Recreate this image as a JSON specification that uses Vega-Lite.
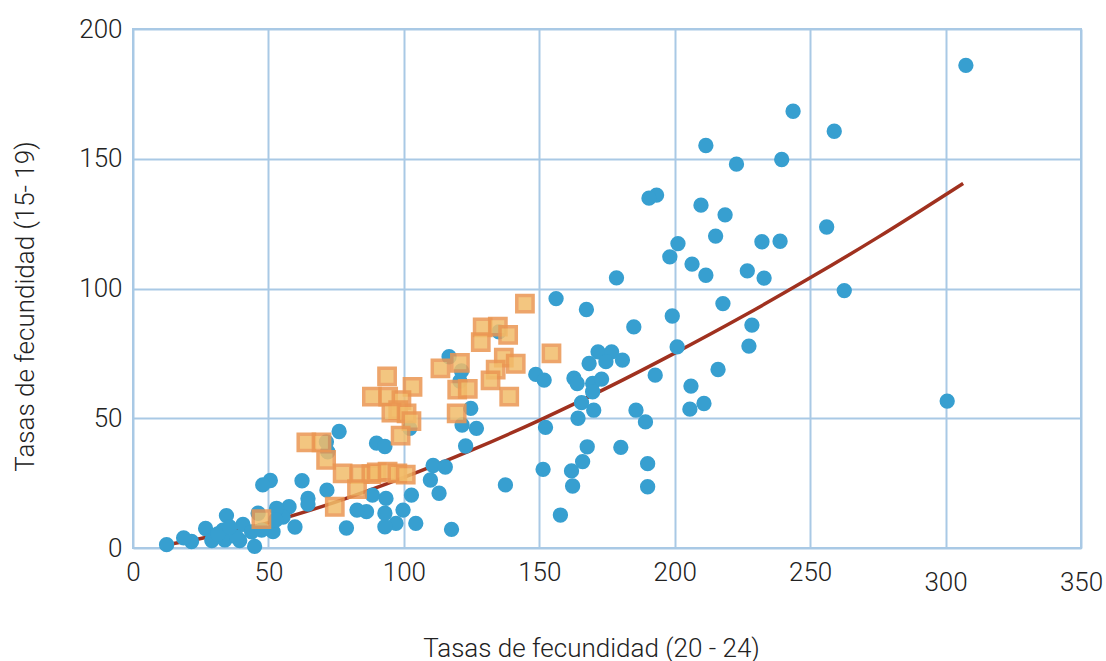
{
  "$schema": "https://vega.github.io/schema/vega-lite/v6.json",
  "width": 948,
  "height": 519,
  "autosize": {"type": "none"},
  "padding": {"left": 133, "top": 29, "right": 25, "bottom": 113},
  "background": "white",
  "config": {"view": {"stroke": "#a9c9e5", "strokeWidth": 2}, "font": "Roboto"},
  "datasets": {
    "ajuste": [
      {"tasa_20_24": 15, "tasa_15_19": 1.7},
      {"tasa_20_24": 30, "tasa_15_19": 4.7},
      {"tasa_20_24": 50, "tasa_15_19": 9.8},
      {"tasa_20_24": 75, "tasa_15_19": 17.8},
      {"tasa_20_24": 100, "tasa_15_19": 27.2},
      {"tasa_20_24": 125, "tasa_15_19": 37.7},
      {"tasa_20_24": 150, "tasa_15_19": 49.2},
      {"tasa_20_24": 175, "tasa_15_19": 61.7},
      {"tasa_20_24": 200, "tasa_15_19": 75.1},
      {"tasa_20_24": 225, "tasa_15_19": 89.2},
      {"tasa_20_24": 250, "tasa_15_19": 104.1},
      {"tasa_20_24": 275, "tasa_15_19": 119.7},
      {"tasa_20_24": 306.5, "tasa_15_19": 140.5}
    ],
    "paises": [
      {"tasa_20_24": 307.5, "tasa_15_19": 186.0},
      {"tasa_20_24": 243.7, "tasa_15_19": 168.3},
      {"tasa_20_24": 258.9, "tasa_15_19": 160.6},
      {"tasa_20_24": 211.5, "tasa_15_19": 155.1},
      {"tasa_20_24": 222.8, "tasa_15_19": 147.9},
      {"tasa_20_24": 239.5, "tasa_15_19": 149.7},
      {"tasa_20_24": 193.3, "tasa_15_19": 136.0},
      {"tasa_20_24": 190.5, "tasa_15_19": 134.8},
      {"tasa_20_24": 209.7, "tasa_15_19": 132.1},
      {"tasa_20_24": 218.6, "tasa_15_19": 128.4},
      {"tasa_20_24": 215.1, "tasa_15_19": 120.2},
      {"tasa_20_24": 201.2, "tasa_15_19": 117.3},
      {"tasa_20_24": 232.2, "tasa_15_19": 118.0},
      {"tasa_20_24": 238.9, "tasa_15_19": 118.2},
      {"tasa_20_24": 256.1, "tasa_15_19": 123.7},
      {"tasa_20_24": 198.2, "tasa_15_19": 112.2},
      {"tasa_20_24": 206.4, "tasa_15_19": 109.4},
      {"tasa_20_24": 211.5, "tasa_15_19": 105.1},
      {"tasa_20_24": 226.8, "tasa_15_19": 106.8},
      {"tasa_20_24": 233.0, "tasa_15_19": 104.0},
      {"tasa_20_24": 262.6, "tasa_15_19": 99.2},
      {"tasa_20_24": 217.8, "tasa_15_19": 94.2},
      {"tasa_20_24": 199.1, "tasa_15_19": 89.4},
      {"tasa_20_24": 228.5, "tasa_15_19": 85.9},
      {"tasa_20_24": 178.5, "tasa_15_19": 104.1},
      {"tasa_20_24": 156.2, "tasa_15_19": 96.1},
      {"tasa_20_24": 167.4, "tasa_15_19": 91.9},
      {"tasa_20_24": 184.9, "tasa_15_19": 85.2},
      {"tasa_20_24": 200.9, "tasa_15_19": 77.5},
      {"tasa_20_24": 227.4, "tasa_15_19": 77.8},
      {"tasa_20_24": 216.0, "tasa_15_19": 68.8},
      {"tasa_20_24": 192.8, "tasa_15_19": 66.6},
      {"tasa_20_24": 168.4, "tasa_15_19": 71.1},
      {"tasa_20_24": 171.7, "tasa_15_19": 75.6},
      {"tasa_20_24": 176.7, "tasa_15_19": 75.6},
      {"tasa_20_24": 180.7, "tasa_15_19": 72.4},
      {"tasa_20_24": 174.6, "tasa_15_19": 71.8},
      {"tasa_20_24": 148.7, "tasa_15_19": 66.9},
      {"tasa_20_24": 151.8, "tasa_15_19": 64.7},
      {"tasa_20_24": 162.8, "tasa_15_19": 65.4},
      {"tasa_20_24": 164.0, "tasa_15_19": 63.4},
      {"tasa_20_24": 169.7, "tasa_15_19": 63.4},
      {"tasa_20_24": 173.0, "tasa_15_19": 65.1},
      {"tasa_20_24": 169.7, "tasa_15_19": 60.2},
      {"tasa_20_24": 165.6, "tasa_15_19": 56.0},
      {"tasa_20_24": 170.1, "tasa_15_19": 53.1},
      {"tasa_20_24": 164.3, "tasa_15_19": 50.0},
      {"tasa_20_24": 206.0, "tasa_15_19": 62.4},
      {"tasa_20_24": 210.8, "tasa_15_19": 55.7},
      {"tasa_20_24": 205.6, "tasa_15_19": 53.5},
      {"tasa_20_24": 185.7, "tasa_15_19": 53.1},
      {"tasa_20_24": 189.2, "tasa_15_19": 48.6},
      {"tasa_20_24": 152.3, "tasa_15_19": 46.5},
      {"tasa_20_24": 167.7, "tasa_15_19": 39.0},
      {"tasa_20_24": 166.0, "tasa_15_19": 33.3},
      {"tasa_20_24": 161.9, "tasa_15_19": 29.7},
      {"tasa_20_24": 151.4, "tasa_15_19": 30.3},
      {"tasa_20_24": 162.3, "tasa_15_19": 23.9},
      {"tasa_20_24": 180.1, "tasa_15_19": 38.8},
      {"tasa_20_24": 190.0, "tasa_15_19": 32.5},
      {"tasa_20_24": 190.0, "tasa_15_19": 23.6},
      {"tasa_20_24": 137.5, "tasa_15_19": 24.3},
      {"tasa_20_24": 157.8, "tasa_15_19": 12.7},
      {"tasa_20_24": 300.6, "tasa_15_19": 56.6},
      {"tasa_20_24": 116.7, "tasa_15_19": 73.7},
      {"tasa_20_24": 121.3, "tasa_15_19": 68.2},
      {"tasa_20_24": 120.7, "tasa_15_19": 64.3},
      {"tasa_20_24": 124.7, "tasa_15_19": 53.8},
      {"tasa_20_24": 121.5, "tasa_15_19": 47.4},
      {"tasa_20_24": 126.8, "tasa_15_19": 46.1},
      {"tasa_20_24": 122.8, "tasa_15_19": 39.3},
      {"tasa_20_24": 102.2, "tasa_15_19": 46.1},
      {"tasa_20_24": 76.1, "tasa_15_19": 44.9},
      {"tasa_20_24": 89.9, "tasa_15_19": 40.4},
      {"tasa_20_24": 93.0, "tasa_15_19": 39.1},
      {"tasa_20_24": 71.4, "tasa_15_19": 40.9},
      {"tasa_20_24": 71.9, "tasa_15_19": 37.1},
      {"tasa_20_24": 110.8, "tasa_15_19": 31.8},
      {"tasa_20_24": 115.3, "tasa_15_19": 31.2},
      {"tasa_20_24": 109.8, "tasa_15_19": 26.2},
      {"tasa_20_24": 113.0, "tasa_15_19": 21.1},
      {"tasa_20_24": 117.6, "tasa_15_19": 7.2},
      {"tasa_20_24": 102.8, "tasa_15_19": 20.4},
      {"tasa_20_24": 99.7, "tasa_15_19": 14.6},
      {"tasa_20_24": 104.4, "tasa_15_19": 9.5},
      {"tasa_20_24": 97.1, "tasa_15_19": 9.5},
      {"tasa_20_24": 93.0, "tasa_15_19": 13.4},
      {"tasa_20_24": 93.4, "tasa_15_19": 19.1},
      {"tasa_20_24": 88.4, "tasa_15_19": 20.4},
      {"tasa_20_24": 93.0, "tasa_15_19": 8.2},
      {"tasa_20_24": 86.2, "tasa_15_19": 14.0},
      {"tasa_20_24": 82.7, "tasa_15_19": 14.6},
      {"tasa_20_24": 78.8, "tasa_15_19": 7.7},
      {"tasa_20_24": 71.6, "tasa_15_19": 22.3},
      {"tasa_20_24": 64.6, "tasa_15_19": 19.1},
      {"tasa_20_24": 64.6, "tasa_15_19": 16.9},
      {"tasa_20_24": 62.4, "tasa_15_19": 25.9},
      {"tasa_20_24": 59.8, "tasa_15_19": 8.1},
      {"tasa_20_24": 57.6, "tasa_15_19": 15.9},
      {"tasa_20_24": 50.7, "tasa_15_19": 26.0},
      {"tasa_20_24": 47.9, "tasa_15_19": 24.3},
      {"tasa_20_24": 55.4, "tasa_15_19": 11.9},
      {"tasa_20_24": 53.0, "tasa_15_19": 15.3},
      {"tasa_20_24": 51.7, "tasa_15_19": 6.3},
      {"tasa_20_24": 46.2, "tasa_15_19": 13.4},
      {"tasa_20_24": 44.9, "tasa_15_19": 0.6},
      {"tasa_20_24": 40.6, "tasa_15_19": 9.1},
      {"tasa_20_24": 39.4, "tasa_15_19": 2.9},
      {"tasa_20_24": 34.5, "tasa_15_19": 12.5},
      {"tasa_20_24": 33.2, "tasa_15_19": 6.9},
      {"tasa_20_24": 33.9, "tasa_15_19": 3.1},
      {"tasa_20_24": 26.8, "tasa_15_19": 7.5},
      {"tasa_20_24": 29.1, "tasa_15_19": 2.9},
      {"tasa_20_24": 31.3, "tasa_15_19": 5.4},
      {"tasa_20_24": 21.6, "tasa_15_19": 2.5},
      {"tasa_20_24": 18.7, "tasa_15_19": 3.9},
      {"tasa_20_24": 12.4, "tasa_15_19": 1.3},
      {"tasa_20_24": 38.3, "tasa_15_19": 4.2},
      {"tasa_20_24": 35.7, "tasa_15_19": 8.1},
      {"tasa_20_24": 43.8, "tasa_15_19": 6.2},
      {"tasa_20_24": 47.5, "tasa_15_19": 6.9},
      {"tasa_20_24": 52.7, "tasa_15_19": 10.8},
      {"tasa_20_24": 135.1, "tasa_15_19": 83.3}
    ],
    "grupo": [
      {"tasa_20_24": 144.7, "tasa_15_19": 94.2},
      {"tasa_20_24": 129.1, "tasa_15_19": 85.0},
      {"tasa_20_24": 134.7, "tasa_15_19": 85.3},
      {"tasa_20_24": 138.5, "tasa_15_19": 82.1},
      {"tasa_20_24": 128.4, "tasa_15_19": 79.3},
      {"tasa_20_24": 154.5, "tasa_15_19": 75.0},
      {"tasa_20_24": 136.9, "tasa_15_19": 73.4},
      {"tasa_20_24": 141.3, "tasa_15_19": 71.0},
      {"tasa_20_24": 133.9, "tasa_15_19": 68.7},
      {"tasa_20_24": 132.0, "tasa_15_19": 64.6},
      {"tasa_20_24": 138.9, "tasa_15_19": 58.3},
      {"tasa_20_24": 120.7, "tasa_15_19": 71.3},
      {"tasa_20_24": 113.5, "tasa_15_19": 69.2},
      {"tasa_20_24": 119.7, "tasa_15_19": 61.0},
      {"tasa_20_24": 123.6, "tasa_15_19": 61.3},
      {"tasa_20_24": 119.5, "tasa_15_19": 51.9},
      {"tasa_20_24": 93.8, "tasa_15_19": 66.1},
      {"tasa_20_24": 103.2, "tasa_15_19": 62.1},
      {"tasa_20_24": 88.2, "tasa_15_19": 58.3},
      {"tasa_20_24": 94.2, "tasa_15_19": 58.3},
      {"tasa_20_24": 99.1, "tasa_15_19": 57.0},
      {"tasa_20_24": 97.9, "tasa_15_19": 53.1},
      {"tasa_20_24": 95.4, "tasa_15_19": 52.2},
      {"tasa_20_24": 101.0, "tasa_15_19": 51.9},
      {"tasa_20_24": 102.8, "tasa_15_19": 48.9},
      {"tasa_20_24": 98.8, "tasa_15_19": 43.3},
      {"tasa_20_24": 64.0, "tasa_15_19": 40.7},
      {"tasa_20_24": 69.6, "tasa_15_19": 40.7},
      {"tasa_20_24": 71.3, "tasa_15_19": 34.0},
      {"tasa_20_24": 77.4, "tasa_15_19": 28.8},
      {"tasa_20_24": 83.7, "tasa_15_19": 28.5},
      {"tasa_20_24": 88.0, "tasa_15_19": 28.5},
      {"tasa_20_24": 90.0, "tasa_15_19": 29.1},
      {"tasa_20_24": 94.0, "tasa_15_19": 29.4},
      {"tasa_20_24": 97.6, "tasa_15_19": 28.8},
      {"tasa_20_24": 100.7, "tasa_15_19": 28.3},
      {"tasa_20_24": 82.7, "tasa_15_19": 22.7},
      {"tasa_20_24": 74.5, "tasa_15_19": 15.9},
      {"tasa_20_24": 47.4, "tasa_15_19": 11.1}
    ]
  },
  "encoding": {
    "x": {
      "field": "tasa_20_24",
      "type": "quantitative",
      "scale": {"domain": [0, 350], "nice": false, "zero": true},
      "axis": {
        "values": [0, 50, 100, 150, 200, 250, 300, 350],
        "title": "Tasas de fecundidad (20 - 24)",
        "grid": true,
        "gridColor": "#a9c9e5",
        "gridWidth": 2,
        "domain": false,
        "ticks": false,
        "tickSize": 0,
        "labelFont": "Roboto",
        "labelFontWeight": 300,
        "labelFontSize": 26,
        "labelColor": "#222222",
        "labelFlush": false,
        "labelOverlap": false,
        "labelPadding": {"condition": {"test": "datum.value >= 300", "value": 21}, "value": 11},
        "titleFont": "Roboto",
        "titleFontWeight": 300,
        "titleFontSize": 26,
        "titleColor": "#222222",
        "titleX": 458,
        "titleY": 108,
        "titleAlign": "center",
        "titleBaseline": "alphabetic"
      }
    },
    "y": {
      "field": "tasa_15_19",
      "type": "quantitative",
      "scale": {"domain": [0, 200], "nice": false, "zero": true},
      "axis": {
        "values": [0, 50, 100, 150, 200],
        "title": "Tasas de fecundidad (15- 19)",
        "grid": true,
        "gridColor": "#a9c9e5",
        "gridWidth": 2,
        "domain": false,
        "ticks": false,
        "tickSize": 0,
        "labelFont": "Roboto",
        "labelFontWeight": 300,
        "labelFontSize": 26,
        "labelColor": "#222222",
        "labelFlush": false,
        "labelOverlap": false,
        "labelPadding": 11,
        "titleFont": "Roboto",
        "titleFontWeight": 300,
        "titleFontSize": 26,
        "titleColor": "#222222",
        "titleAngle": 270,
        "titleX": -100,
        "titleY": 277,
        "titleAlign": "center",
        "titleBaseline": "alphabetic"
      }
    }
  },
  "layer": [
    {
      "data": {"name": "ajuste"},
      "mark": {"type": "line", "color": "#a0311f", "strokeWidth": 3.5, "interpolate": "monotone"}
    },
    {
      "data": {"name": "paises"},
      "mark": {"type": "point", "shape": "circle", "filled": true, "color": "#379fd0", "opacity": 1, "size": 235}
    },
    {
      "data": {"name": "grupo"},
      "mark": {"type": "point", "shape": "square", "filled": true, "fill": "#f2bd6a", "stroke": "#eb9652", "strokeWidth": 3.5, "size": 265, "opacity": 0.85}
    }
  ]
}
